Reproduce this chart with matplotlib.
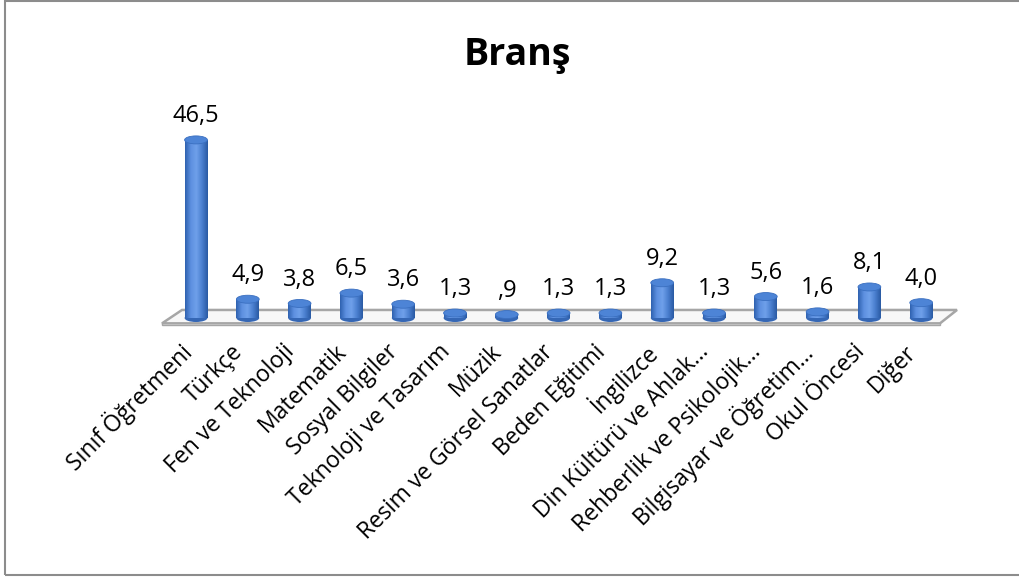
import matplotlib.pyplot as plt
import numpy as np
from matplotlib.patches import Ellipse, Polygon, Rectangle
from matplotlib.colors import LinearSegmentedColormap

categories = ["Sınıf Öğretmeni", "Türkçe", "Fen ve Teknoloji", "Matematik", "Sosyal Bilgiler",
              "Teknoloji ve Tasarım", "Müzik", "Resim ve Görsel Sanatlar", "Beden Eğitimi",
              "İngilizce", "Din Kültürü ve Ahlak…", "Rehberlik ve Psikolojik…",
              "Bilgisayar ve Öğretim…", "Okul Öncesi", "Diğer"]
values = [46.5, 4.9, 3.8, 6.5, 3.6, 1.3, 0.9, 1.3, 1.3, 9.2, 1.3, 5.6, 1.6, 8.1, 4.0]
value_labels = ["46,5", "4,9", "3,8", "6,5", "3,6", "1,3", ",9", "1,3", "1,3", "9,2",
                "1,3", "5,6", "1,6", "8,1", "4,0"]

plt.rcParams['font.family'] = ['Open Sans', 'DejaVu Sans']

W, H = 1019, 577
fig = plt.figure(figsize=(W / 100, H / 100), dpi=100)

# outer chart border
fig.patches.append(Rectangle((5 / W, 2.5 / H), 1.0, 1 - 3.5 / H, transform=fig.transFigure,
                             fill=False, edgecolor="#8c8c8c", linewidth=1.5))

# axes placed so that bar centres fall at 196 + 51.8*i px and value 0 at y=318 px
px_unit_x = 51.8
px_unit_y = 3.83
left_px, right_px, top_px, bot_px = 150, 965, 100, 330
ax = fig.add_axes([left_px / W, 1 - bot_px / H, (right_px - left_px) / W, (bot_px - top_px) / H])
ax.set_xlim((left_px - 196) / px_unit_x, (right_px - 196) / px_unit_x)
ax.set_ylim(-(bot_px - 318) / px_unit_y, (318 - top_px) / px_unit_y)
ax.axis("off")

x = np.arange(len(values))
bw = 0.44
eh = 8 / px_unit_y  # ellipse height in data units

# floor slab
floor_top = 2.1
floor_bot = -1.4
fl = (162 - 196) / px_unit_x
fr = (940 - 196) / px_unit_x
tl = (182 - 196) / px_unit_x
tr = (957 - 196) / px_unit_x
ax.add_patch(Polygon([(fl, floor_bot), (fr, floor_bot), (tr, floor_top), (tl, floor_top)],
                     closed=True, facecolor="#f7f7f7", edgecolor="#a6a6a6", linewidth=1.8, zorder=1))
ax.add_patch(Rectangle((fl, floor_bot - 0.45), fr - fl, 0.45, facecolor="#d0d0d0",
                       edgecolor="#a6a6a6", linewidth=1.0, zorder=1))

cmap = LinearSegmentedColormap.from_list("cyl", ["#2f62b0", "#5d90e0", "#6fa0ea", "#4a7fcf", "#2a5aa3"])
grad = np.linspace(0, 1, 64).reshape(1, -1)

bars = ax.bar(x, values, width=bw, color="none", zorder=3)
for b, v, lab in zip(bars, values, value_labels):
    x0 = b.get_x()
    w = b.get_width()
    cx = x0 + w / 2
    # bottom ellipse
    ax.add_patch(Ellipse((cx, 0), w, eh, facecolor="#3567b5", edgecolor="none", zorder=2))
    im = ax.imshow(grad, cmap=cmap, aspect="auto", extent=(x0, x0 + w, 0, v), zorder=3)
    im.set_clip_path(b)
    ax.add_patch(Ellipse((cx, v), w, eh, facecolor="#4d84d6", edgecolor="#3a6fc0",
                         linewidth=0.6, zorder=4))
    ax.annotate(lab, (cx, v), xytext=(0, 8.5), textcoords="offset points", ha="center",
                va="bottom", fontsize=17, color="#000000")

# category labels
for xi, name in zip(x, categories):
    ax.annotate(name, (xi, 0), xytext=(-6, -22), textcoords="offset points", rotation=45,
                rotation_mode="anchor", ha="right", va="center", fontsize=16.5, color="#000000")

fig.text(517 / W, 1 - 55 / H, "Branş", ha="center", va="center", fontsize=27, fontweight="bold")

fig.savefig("out.png", dpi=100)
